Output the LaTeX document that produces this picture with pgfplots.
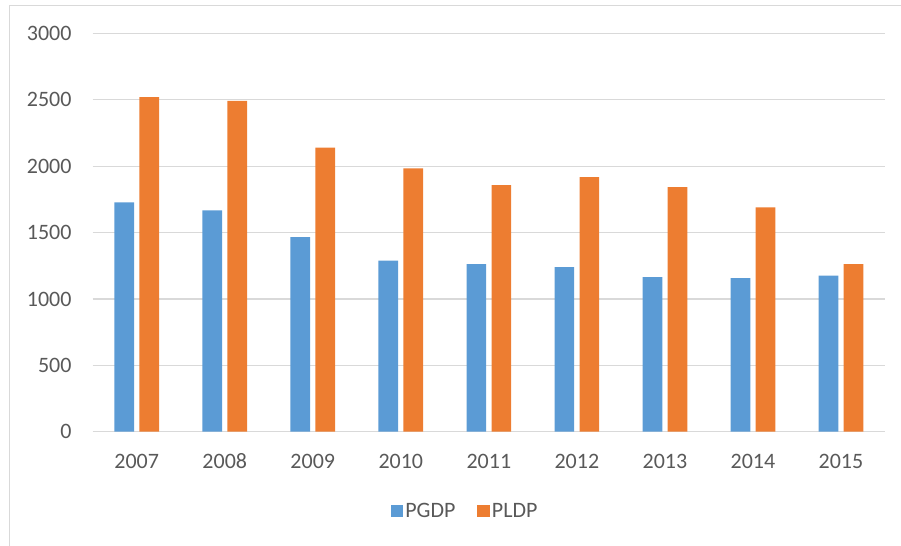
\documentclass[border=0pt]{standalone}
\usepackage{pgfplots}
\pgfplotsset{compat=1.18}
\usepackage{fontspec}
\setmainfont{Carlito}
\definecolor{cblue}{HTML}{5B9BD5}
\definecolor{corange}{HTML}{ED7D31}
\definecolor{ctext}{HTML}{595959}
\definecolor{cgrid}{HTML}{D9D9D9}
\begin{document}
\begin{tikzpicture}[x=1bp,y=1bp]
\begin{axis}[
  at={(0,0)}, anchor=south west,
  scale only axis, width=792.3bp, height=398.2bp,
  xmin=-0.5, xmax=8.5, ymin=0, ymax=3000,
  ytick={0,500,1000,1500,2000,2500,3000},
  xtick={0,1,2,3,4,5,6,7,8},
  xticklabels={2007,2008,2009,2010,2011,2012,2013,2014,2015},
  ymajorgrids, grid style={cgrid, line width=1.2bp},
  axis line style={draw=none}, major tick length=0pt,
  /pgf/number format/assume math mode=true,
  /pgf/number format/1000 sep={},
  tick label style={font=\fontsize{22bp}{26bp}\selectfont, text=ctext},
  yticklabel style={anchor=east, inner sep=0pt, xshift=-21bp},
  xticklabel style={anchor=north, inner sep=0pt, text height=13.9bp, text depth=0pt, yshift=-22.6bp},
  legend columns=2,
  legend style={at={(0.47,-0.199)}, anchor=center, draw=none, fill=none,
    font=\fontsize{22bp}{26bp}\selectfont, text=ctext,
    /tikz/every even column/.append style={column sep=20bp}},
  legend image code/.code={\fill[#1] (0bp,-6.2bp) rectangle (12.5bp,6.2bp);},
]
\addplot[ybar, fill=cblue, draw=none, bar width=19.7bp, bar shift=-12.5bp]
  coordinates {(0,1727) (1,1667) (2,1466) (3,1288) (4,1263) (5,1240) (6,1165) (7,1157) (8,1175)};
\addlegendentry{PGDP}
\addplot[ybar, fill=corange, draw=none, bar width=19.7bp, bar shift=12.5bp]
  coordinates {(0,2520) (1,2492) (2,2141) (3,1983) (4,1858) (5,1918) (6,1843) (7,1690) (8,1263)};
\addlegendentry{PLDP}
\end{axis}
\draw[cgrid, line width=1bp] (-82.7,-120) -- (-82.7,425.7) -- (815,425.7);
\pgfresetboundingbox
\useasboundingbox (-92.7,-114.3) rectangle (808.3,431.7);
\end{tikzpicture}
\end{document}
